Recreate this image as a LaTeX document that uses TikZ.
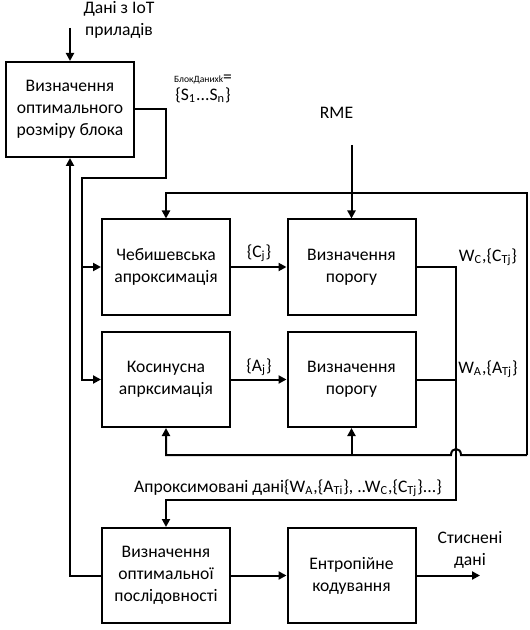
\documentclass[tikz,border=0pt]{standalone}
\usepackage{fontspec}
\setmainfont{Carlito}
\usetikzlibrary{arrows.meta}

\tikzset{
  blok/.style={draw, line width=1pt, minimum width=64pt, minimum height=47.5pt,
    inner sep=0pt, align=center, font=\fontsize{8.8}{11}\selectfont},
  strilka/.style={-{Triangle[length=4pt,width=4pt]}, line width=1pt},
  liniia/.style={line width=1pt},
  napys/.style={font=\fontsize{8.8}{11}\selectfont, align=center, inner sep=0pt},
}

\begin{document}
\begin{tikzpicture}[x=0.5pt,y=-0.5pt]
\useasboundingbox (0,0) rectangle (529,630);

% bloky
\node[blok] (rozmir) at (70,109.5) {Визначення\\оптимального\\розміру блока};
\node[blok] (cheb) at (166,267) {Чебишевська\\апроксимація};
\node[blok] (porog1) at (351.5,267) {Визначення\\порогу};
\node[blok] (kos) at (166,379.5) {Косинусна\\апрксимація};
\node[blok] (porog2) at (351.5,379.5) {Визначення\\порогу};
\node[blok] (poslid) at (166,575.5) {Визначення\\оптимальної\\послідовності};
\node[blok] (entrop) at (351.5,575.5) {Ентропійне\\кодування};

% napysy
\node[napys] (dani) at (119,20) {Дані з IoT\\приладів};
\node[napys, font=\fontsize{8.8}{9}\selectfont] (blokdanykh) at (203,89)
  {{\fontsize{4.8}{5}\selectfont БлокДанихk}=\\\{S\textsubscript{1}...S\textsubscript{n}\}};
\node[napys] (rme) at (336.5,113) {RME};
\node[napys] (cj) at (259,253) {\{C\textsubscript{j}\}};
\node[napys] (aj) at (259,367) {\{A\textsubscript{j}\}};
\node[napys] (wc) at (488,257) {W\textsubscript{C},\{C\textsubscript{Tj}\}};
\node[napys] (wa) at (488,369) {W\textsubscript{A},\{A\textsubscript{Tj}\}};
\node[napys] (aprox) at (288,488)
  {Апроксимовані дані\{W\textsubscript{A},\{A\textsubscript{Ti}\}, ..W\textsubscript{C},\{C\textsubscript{Tj}\}...\}};
\node[napys] (stysneni) at (470,550) {Стиснені\\дані};

\coordinate (vkhid) at (70,28);
\coordinate (rmevkhid) at (351.5,145);
\coordinate (rozgal) at (82,178);
\coordinate (petlia) at (527,455);
\coordinate (zbir) at (456,500);
\coordinate (vykhid) at (480,575.5);

% zviazky
\draw[strilka] (vkhid) -- (rozmir);
\draw[strilka] (rmevkhid) -- (porog1);
\draw[strilka] (rozmir.east) -- (166,109.5) -- (166,178) -- (rozgal) |- (kos.west);
\draw[strilka] (rozgal |- cheb.west) -- (cheb.west);
\draw[strilka] (cheb) -- (porog1);
\draw[strilka] (kos) -- (porog2);

\draw[strilka] (petlia) -- (527,193) -| (cheb.north);
\draw[strilka] (petlia) -- (461,455) .. controls (461,447) and (451,447) .. (451,455) -| (kos.south);
\draw[strilka] (porog2.south |- petlia) -- (porog2.south);

\draw[liniia] (porog2.east) -- (456,379.5);
\draw[strilka] (porog1.east) -- (456,267) -- (zbir) -| (poslid.north);

\draw[strilka] (poslid) -- (entrop);
\draw[strilka] (entrop) -- (vykhid);
\draw[strilka] (poslid.west) -| (rozmir.south);

\end{tikzpicture}
\end{document}
